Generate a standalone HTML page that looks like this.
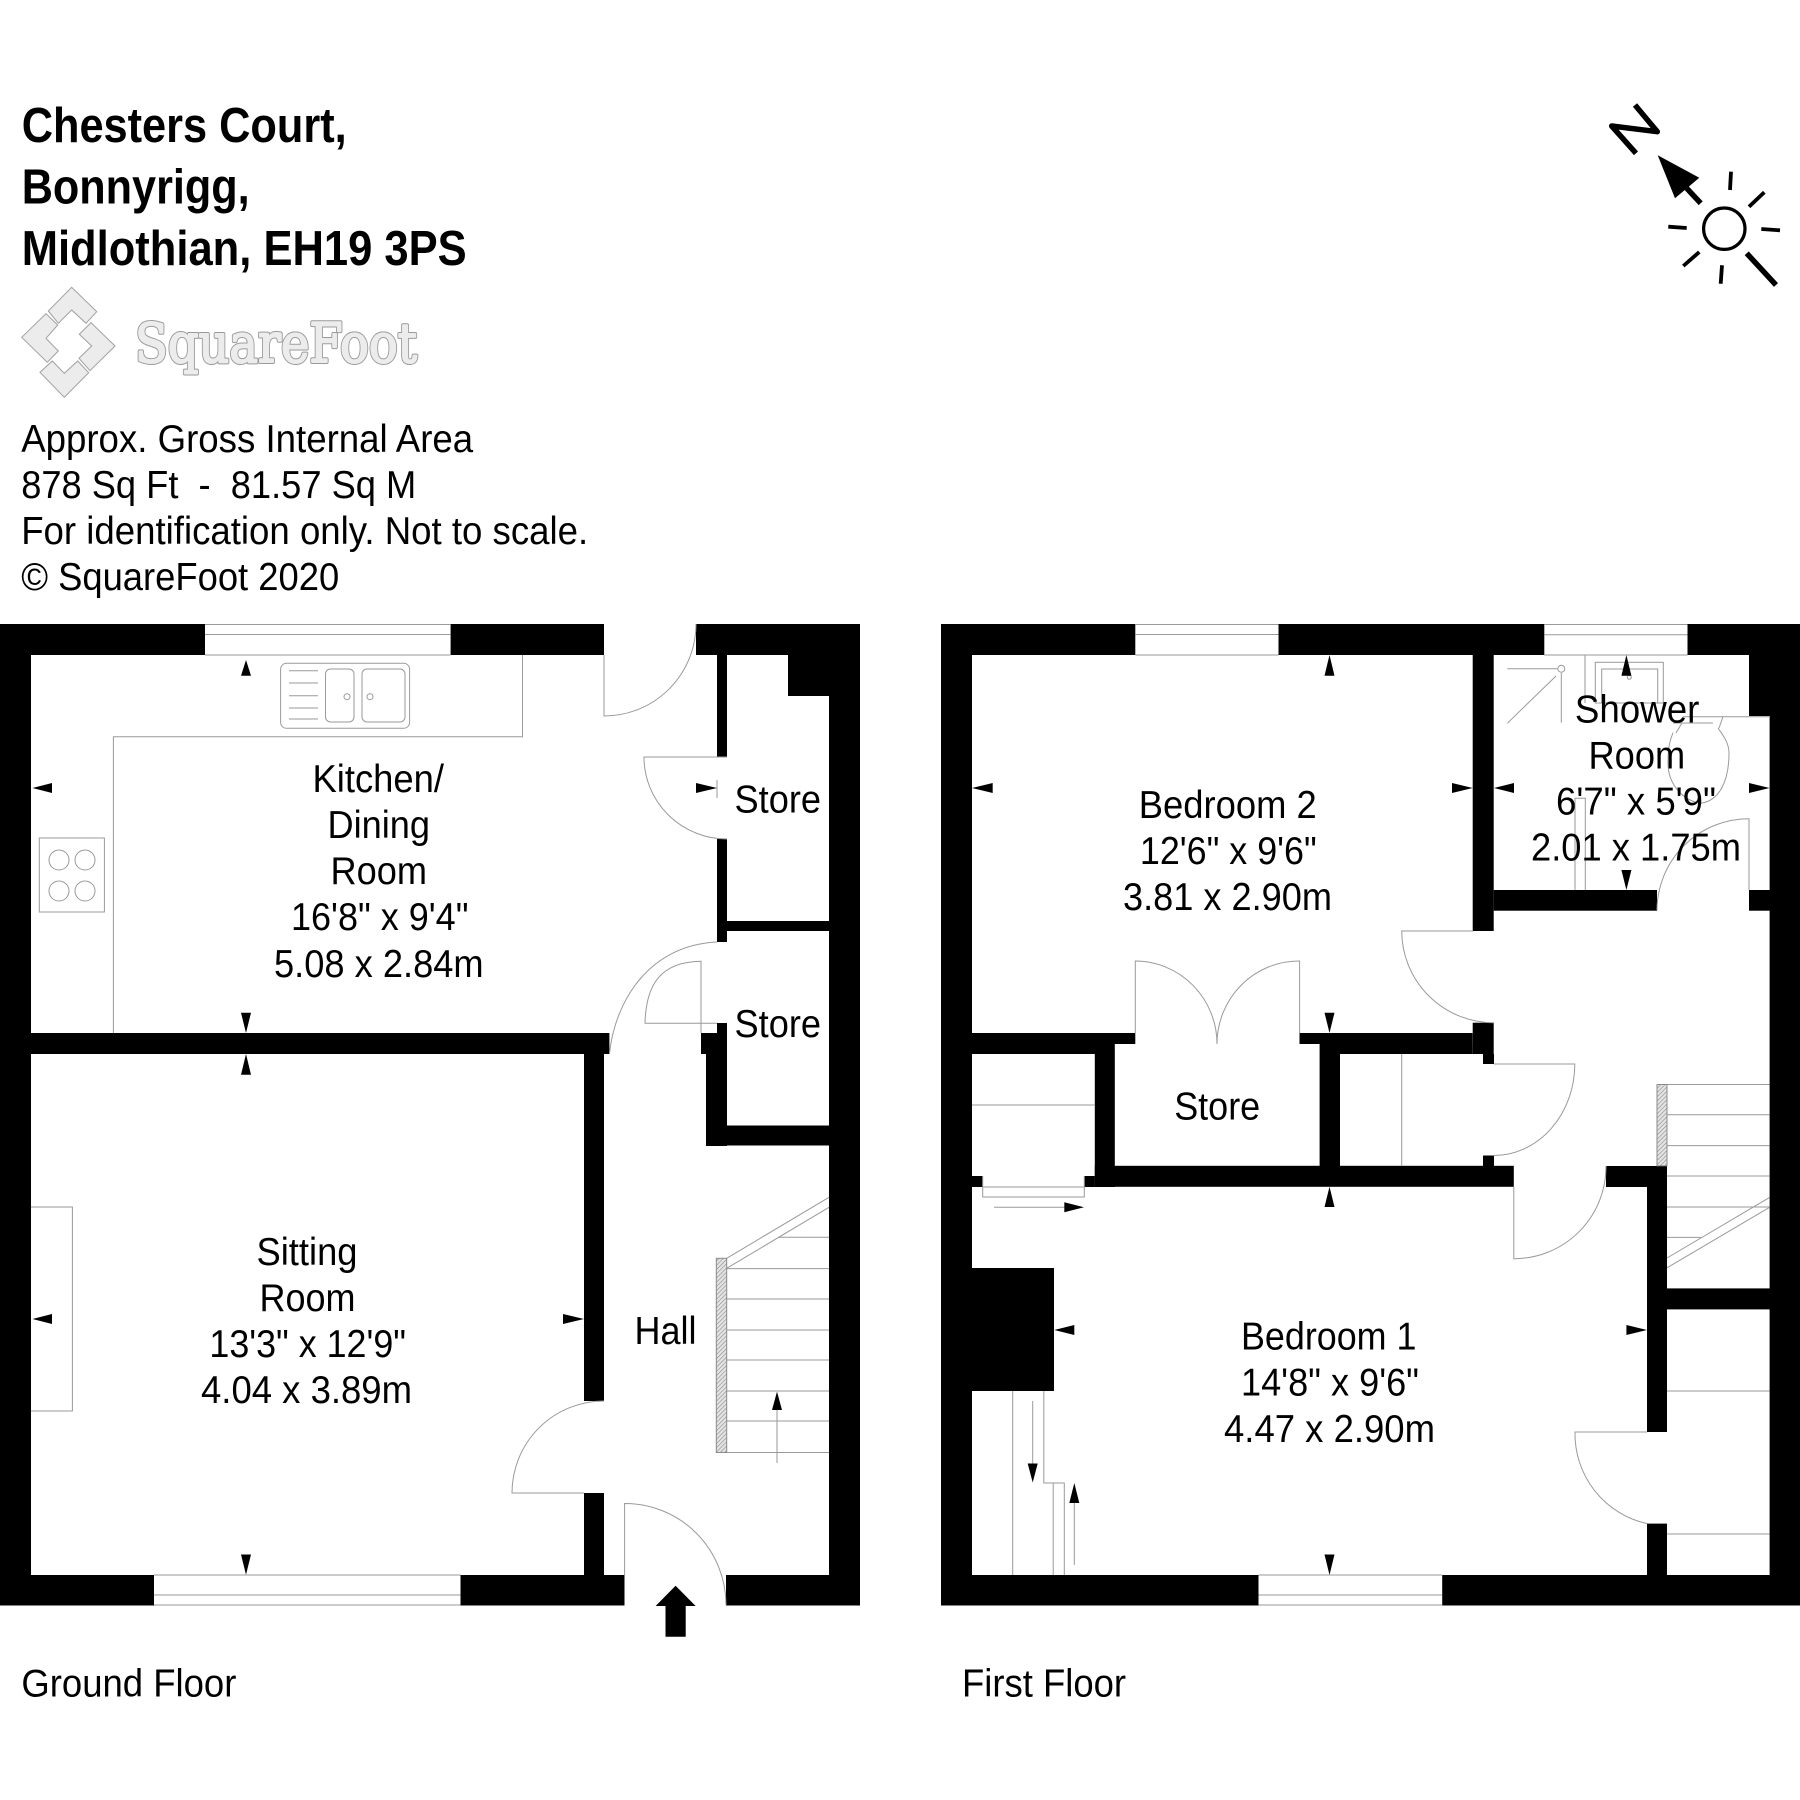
<!DOCTYPE html>
<html><head><meta charset="utf-8"><style>
html,body{margin:0;padding:0;background:#fff}
svg{display:block}
text{font-family:"Liberation Sans",Arial,sans-serif;font-size:39px;fill:#000;white-space:pre}
.b{font-weight:bold;font-size:49px}
.l{fill:none;stroke:#9a9a9a;stroke-width:1}
.w{fill:#000}
.k{fill:none;stroke:#000}
</style></head><body>
<svg width="1800" height="1800" viewBox="0 0 1800 1800" xmlns="http://www.w3.org/2000/svg">
<defs>
<pattern id="h" width="3" height="3" patternUnits="userSpaceOnUse" patternTransform="rotate(45)">
<rect width="3" height="3" fill="#e4e4e4"/><line x1="0" y1="0" x2="0" y2="3" stroke="#8a8a8a" stroke-width="1.2"/>
</pattern>
</defs>
<rect width="1800" height="1800" fill="#fff"/>

<!-- Header text -->
<text class="b" x="21.7" y="142" textLength="325" lengthAdjust="spacingAndGlyphs">Chesters Court,</text>
<text class="b" x="21.7" y="203.4" textLength="228" lengthAdjust="spacingAndGlyphs">Bonnyrigg,</text>
<text class="b" x="21.7" y="265" textLength="445" lengthAdjust="spacingAndGlyphs">Midlothian, EH19 3PS</text>
<text x="21.2" y="452" textLength="452" lengthAdjust="spacingAndGlyphs">Approx. Gross Internal Area</text>
<text x="21.2" y="498" textLength="395" lengthAdjust="spacingAndGlyphs" xml:space="preserve">878 Sq Ft  -  81.57 Sq M</text>
<text x="21.2" y="543.8" textLength="567" lengthAdjust="spacingAndGlyphs">For identification only. Not to scale.</text>
<text x="21.2" y="590" textLength="318" lengthAdjust="spacingAndGlyphs">© SquareFoot 2020</text>

<!-- Logo -->
<g fill="#ececec" stroke="#a0a0a0" stroke-width="1">
<polygon points="71.7,287.3 96.7,311.7 86,323.3 71.7,310 58.3,323.3 48.3,311"/>
<polygon points="21.7,337.3 46,313.7 57.7,325 46,338.3 58.3,351 47.3,362.3"/>
<polygon points="115,346 91,322.7 79.3,334.3 91.7,346 79,358.3 90,370.7"/>
<polygon points="64.3,397.3 40,372.3 52.3,361 64.3,373.3 77.7,361 88.7,372.7"/>
</g>
<text x="135" y="362" textLength="282" lengthAdjust="spacingAndGlyphs" style="font-family:'DejaVu Serif',serif;font-size:54px;fill:#ececec;stroke:#9a9a9a;stroke-width:4;stroke-linejoin:round">SquareFoot</text>
<text x="135" y="362" textLength="282" lengthAdjust="spacingAndGlyphs" style="font-family:'DejaVu Serif',serif;font-size:54px;fill:#ececec;stroke:#ececec;stroke-width:2;stroke-linejoin:round">SquareFoot</text>

<!-- Compass -->
<polyline points="1635,105 1657.3,131.7 1611.7,126 1636,153.3" fill="none" stroke="#000" stroke-width="5.5" stroke-linejoin="round"/>
<polygon points="1657.7,155.3 1699.3,177.7 1675,198.3" fill="#000"/>
<line x1="1686.7" y1="188.3" x2="1700.7" y2="203.3" class="k" stroke-width="5.5"/>
<circle cx="1724.3" cy="228.7" r="20.7" class="k" stroke-width="3.2"/>
<g class="k" stroke-width="3.8">
<line x1="1731" y1="171.7" x2="1730" y2="190"/>
<line x1="1764.3" y1="192.3" x2="1749" y2="206.7"/>
<line x1="1761.3" y1="229" x2="1780" y2="230.3"/>
<line x1="1668.3" y1="226.7" x2="1686.7" y2="228"/>
<line x1="1699.3" y1="252" x2="1683.3" y2="266"/>
<line x1="1722" y1="265.3" x2="1720.7" y2="283.7"/>
</g>
<line x1="1746.7" y1="253.3" x2="1776" y2="285" class="k" stroke-width="5.5"/>

<!-- Ground floor walls -->
<g class="w">
<rect x="0" y="624" width="205" height="31"/>
<rect x="450.6" y="624" width="153.4" height="31"/>
<rect x="696" y="624" width="164" height="31"/>
<rect x="0" y="624" width="31" height="981.5"/>
<rect x="0" y="1575" width="154" height="30.5"/>
<rect x="460.5" y="1575" width="164" height="30.5"/>
<rect x="726" y="1575" width="134" height="30.5"/>
<rect x="829" y="624" width="31" height="981.5"/>
<rect x="788" y="655" width="41" height="41"/>
<rect x="717" y="655" width="10" height="102"/>
<rect x="717" y="839" width="10" height="103"/>
<rect x="727" y="921" width="102" height="10"/>
<rect x="717" y="1023" width="10" height="10"/>
<rect x="701" y="1033" width="26" height="21"/>
<rect x="706" y="1054" width="21" height="92"/>
<rect x="706" y="1125.5" width="123" height="20"/>
<rect x="31" y="1033" width="578.4" height="21"/>
<rect x="584" y="1054" width="20" height="347"/>
<rect x="584" y="1493" width="20" height="82"/>
</g>

<!-- Ground floor thin lines -->
<g class="l">
<path d="M205 624.5H450.6M205 634.5H450.6M205 655H450.6"/>
<path d="M154 1575H460.5M154 1595H460.5M154 1605H460.5"/>
<!-- doors -->
<path d="M604 655V716A92 92 0 0 0 696 624"/>
<path d="M727 757H644A83 82 0 0 0 727 839"/>
<path d="M717 780V798"/>
<path d="M609.4 1054C615 1000 650 945 717 942"/>
<path d="M717 1023.3H645C646 985 660 962 701 961.3V1033"/>
<path d="M604 1401A92 92 0 0 0 512 1493H584"/>
<path d="M624.6 1575V1503.5A101 101.5 0 0 1 726 1605"/>
<!-- counter -->
<path d="M522.5 655V736.7H113.4V1033"/>
<rect x="280.6" y="663.3" width="129" height="65" rx="6"/>
<rect x="325.5" y="669" width="28.5" height="53" rx="5"/>
<rect x="362" y="669" width="43" height="53" rx="5"/>
<path d="M289 670.7H318M289 683H318M289 695.7H318M289 708H318M289 719H318"/>
<circle cx="347" cy="696.7" r="3"/><circle cx="370" cy="696.7" r="3"/>
<rect x="39.3" y="838" width="65.1" height="74"/>
<circle cx="59" cy="860" r="10"/><circle cx="85" cy="860" r="10"/>
<circle cx="59" cy="891" r="10"/><circle cx="85" cy="891" r="10"/>
<!-- fireplace -->
<path d="M31 1207H72.4V1411H31"/>
<!-- stairs -->
<path d="M727 1268.6H829M727 1299H829M727 1330H829M727 1360H829M727 1391H829M727 1421H829M727 1452.5H829M778 1237.3H829"/>
<path d="M726.7 1258.3L829 1197.3M726.7 1268.3L829 1207.3"/>
<path d="M777 1463V1400"/>
</g>
<rect x="716.3" y="1258.3" width="10.4" height="194.2" fill="url(#h)" stroke="#8a8a8a" stroke-width="1"/>

<!-- First floor walls -->
<g class="w">
<rect x="941" y="624" width="194.3" height="31"/>
<rect x="1278.5" y="624" width="265.8" height="31"/>
<rect x="1687.5" y="624" width="112.5" height="31"/>
<rect x="941" y="624" width="31" height="981.5"/>
<rect x="941" y="1575" width="317.5" height="30.5"/>
<rect x="1442.2" y="1575" width="357.8" height="30.5"/>
<rect x="1749" y="655" width="51" height="61"/>
<rect x="1769.6" y="716" width="30.4" height="889.5"/>
<rect x="1472.7" y="655" width="21" height="276"/>
<rect x="1472.7" y="1022.7" width="21" height="31.3"/>
<rect x="1483" y="1054" width="11" height="10"/>
<rect x="1493.7" y="890" width="163.3" height="20.7"/>
<rect x="1749" y="890" width="21" height="20.7"/>
<rect x="972" y="1033" width="163.3" height="11"/>
<rect x="972" y="1044" width="142.8" height="10"/>
<rect x="1299.5" y="1033" width="173" height="11"/>
<rect x="1319.6" y="1044" width="153" height="10"/>
<rect x="1094.8" y="1054" width="20" height="133"/>
<rect x="1319.6" y="1054" width="20.4" height="112"/>
<rect x="1094.8" y="1165.8" width="419" height="21"/>
<rect x="1084.3" y="1176" width="10.5" height="11"/>
<rect x="972" y="1176" width="10.7" height="11"/>
<rect x="1483" y="1155.5" width="11" height="10.5"/>
<rect x="1606" y="1166" width="61" height="21"/>
<rect x="1647" y="1166" width="20" height="266"/>
<rect x="1647" y="1523.6" width="20" height="52"/>
<rect x="1667" y="1288.4" width="103" height="21"/>
<rect x="972" y="1268" width="82" height="123"/>
</g>

<!-- First floor thin lines -->
<g class="l">
<path d="M1135.3 624.5H1278.5M1135.3 634.5H1278.5M1135.3 655H1278.5"/>
<path d="M1544.3 624.5H1687.5M1544.3 634.7H1687.5M1544.3 655H1687.5"/>
<path d="M1258.5 1575H1442.2M1258.5 1595H1442.2M1258.5 1605H1442.2"/>
<!-- doors -->
<path d="M1473 931H1401.7A92 92 0 0 0 1493.8 1022.7"/>
<path d="M1749 890V818.7A92 92 0 0 0 1657 910"/>
<path d="M1135.3 1033V961A82 83 0 0 1 1217 1044"/>
<path d="M1299.6 1033V961A82 83 0 0 0 1217 1044"/>
<path d="M1493.8 1064H1574.8A81 91.5 0 0 1 1493.8 1155.5"/>
<path d="M1513.8 1187V1258.7A92 92 0 0 0 1606 1166"/>
<path d="M1647 1432H1575A92 92 0 0 0 1647 1523.6"/>
<!-- cupboards -->
<path d="M1401.7 1054V1166M972 1105H1095"/>
<path d="M982.7 1176V1197H1084.3V1176M982.7 1187H1084.3"/>
<path d="M994 1207.3H1070"/>
<!-- stairs upper -->
<path d="M1667 1084.5H1769.6M1667 1114.8H1769.6M1667 1145.6H1769.6M1667 1176H1769.6M1667 1207H1769.6M1667 1237.4H1701"/>
<path d="M1667 1258L1769.6 1197.4M1667 1267.8L1769.6 1207.3"/>
<path d="M1667 1391H1769.6M1667 1534H1769.6"/>
<!-- stairs lower-left -->
<path d="M1012.7 1391V1575M1043.8 1391V1483H1064.3V1575M1053.2 1483V1575"/>
<path d="M1032.7 1401V1470M1074.3 1565V1495"/>
<!-- shower -->
<path d="M1507.3 668.7H1557.3"/>
<circle cx="1561.3" cy="668.7" r="3.5"/>
<path d="M1556 676L1507.3 723.3M1561.3 673V722.7"/>
<path d="M1585 655V703"/>
<rect x="1595.3" y="662.3" width="68" height="40.7"/>
<rect x="1601.7" y="669" width="56" height="34"/>
<circle cx="1629.3" cy="677.3" r="2"/>
<path d="M1683 716.7H1769M1673 723H1713"/>
<path d="M1673 732.7C1670 740 1668 747 1668 763C1668 787 1687 803 1702 803C1720 800 1729 780 1729 753C1729 743 1723 735 1718 728M1723 716.7L1719 728M1682 723L1676 733"/>
<path d="M1575 890V798.3H1585.3V890"/>
</g>
<rect x="1657" y="1084.5" width="10" height="81.3" fill="url(#h)" stroke="#8a8a8a" stroke-width="1"/>

<!-- Small dimension arrows -->
<g fill="#000">
<polygon points="246,660 241,675.7 251,675.7"/>
<polygon points="32.5,788 52,783 52,793"/>
<polygon points="717,788 696,783 696,793"/>
<polygon points="246,1033 241,1012.7 251,1012.7"/>
<polygon points="246,1054 241,1074.7 251,1074.7"/>
<polygon points="32.5,1319 52,1314 52,1324"/>
<polygon points="584,1319 563,1314 563,1324"/>
<polygon points="246,1574.7 241,1554.5 251,1554.5"/>
<polygon points="777,1391.6 772,1410 782,1410"/>
<polygon points="1329.5,655 1324.5,675.7 1334.5,675.7"/>
<polygon points="972,788 992.7,783 992.7,793"/>
<polygon points="1472.7,788 1452,783 1452,793"/>
<polygon points="1329.5,1033 1324.5,1012.7 1334.5,1012.7"/>
<polygon points="1494,788 1514,783 1514,793"/>
<polygon points="1769.6,788 1749,783 1749,793"/>
<polygon points="1626.4,655 1621.4,675.7 1631.4,675.7"/>
<polygon points="1626.4,890 1621.4,870 1631.4,870"/>
<polygon points="1329.5,1186.8 1324.5,1207 1334.5,1207"/>
<polygon points="1054.3,1330 1074.3,1325 1074.3,1335"/>
<polygon points="1647,1330 1626.4,1325 1626.4,1335"/>
<polygon points="1329.5,1575 1324.5,1554.5 1334.5,1554.5"/>
<polygon points="1084,1207.3 1064.3,1202.3 1064.3,1212.3"/>
<polygon points="1032.7,1482.5 1027.7,1463.5 1037.7,1463.5"/>
<polygon points="1074.3,1483 1069.3,1503 1079.3,1503"/>
<!-- entrance arrow -->
<polygon points="675.6,1585.7 695.6,1606 685.7,1606 685.7,1636.7 665.5,1636.7 665.5,1606 655.6,1606"/>
</g>

<!-- Room labels -->
<text x="312.5" y="792" textLength="131.5" lengthAdjust="spacingAndGlyphs">Kitchen/</text>
<text x="327.5" y="838" textLength="102.5" lengthAdjust="spacingAndGlyphs">Dining</text>
<text x="330.5" y="884" textLength="96.5" lengthAdjust="spacingAndGlyphs">Room</text>
<text x="291" y="930" textLength="177.5" lengthAdjust="spacingAndGlyphs">16'8" x 9'4"</text>
<text x="274" y="977" textLength="209.6" lengthAdjust="spacingAndGlyphs">5.08 x 2.84m</text>
<text x="734.5" y="812.7" textLength="86.5" lengthAdjust="spacingAndGlyphs">Store</text>
<text x="734.5" y="1037" textLength="86.5" lengthAdjust="spacingAndGlyphs">Store</text>
<text x="256.5" y="1265" textLength="101" lengthAdjust="spacingAndGlyphs">Sitting</text>
<text x="259.5" y="1311" textLength="96" lengthAdjust="spacingAndGlyphs">Room</text>
<text x="209.4" y="1357" textLength="196.6" lengthAdjust="spacingAndGlyphs">13'3" x 12'9"</text>
<text x="201" y="1403" textLength="211" lengthAdjust="spacingAndGlyphs">4.04 x 3.89m</text>
<text x="634.5" y="1344" textLength="62" lengthAdjust="spacingAndGlyphs">Hall</text>
<text x="21.4" y="1696.5" textLength="215" lengthAdjust="spacingAndGlyphs">Ground Floor</text>

<text x="1138.8" y="818" textLength="177.9" lengthAdjust="spacingAndGlyphs">Bedroom 2</text>
<text x="1139.9" y="864" textLength="176.8" lengthAdjust="spacingAndGlyphs">12'6" x 9'6"</text>
<text x="1123" y="910" textLength="209" lengthAdjust="spacingAndGlyphs">3.81 x 2.90m</text>
<text x="1574.9" y="722.7" textLength="124.5" lengthAdjust="spacingAndGlyphs">Shower</text>
<text x="1588.5" y="768.7" textLength="96.7" lengthAdjust="spacingAndGlyphs">Room</text>
<text x="1556" y="814.7" textLength="160" lengthAdjust="spacingAndGlyphs">6'7" x 5'9"</text>
<text x="1531" y="860.7" textLength="210" lengthAdjust="spacingAndGlyphs">2.01 x 1.75m</text>
<text x="1174.2" y="1119.5" textLength="86" lengthAdjust="spacingAndGlyphs">Store</text>
<text x="1241" y="1349.7" textLength="175.5" lengthAdjust="spacingAndGlyphs">Bedroom 1</text>
<text x="1241" y="1395.5" textLength="178" lengthAdjust="spacingAndGlyphs">14'8" x 9'6"</text>
<text x="1224" y="1441.8" textLength="211" lengthAdjust="spacingAndGlyphs">4.47 x 2.90m</text>
<text x="962" y="1696.5" textLength="164" lengthAdjust="spacingAndGlyphs">First Floor</text>
</svg>
</body></html>
